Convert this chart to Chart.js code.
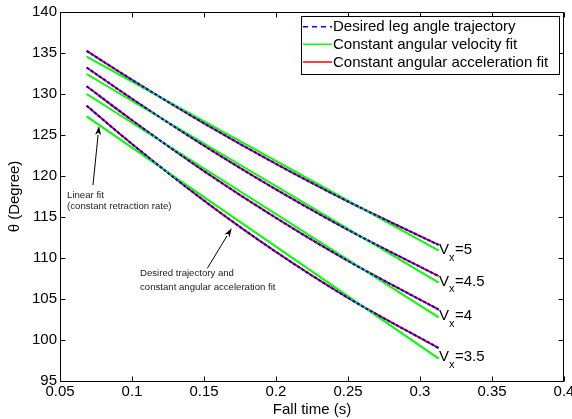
<!DOCTYPE html>
<html>
<head>
<meta charset="utf-8">
<script src="https://cdn.jsdelivr.net/npm/chart.js@4.4.1/dist/chart.umd.min.js"></script>
<style>
html,body{margin:0;padding:0;background:#fff;}
#wrap{width:572px;height:419px;}
</style>
</head>
<body>
<div id="wrap"><canvas id="c" width="572" height="419"></canvas></div>
<script>
// ---- data ----
const fallTime = [0.0685, 0.1, 0.15, 0.2, 0.25, 0.313];
const fitTime = [0.0685, 0.313];
const speedLabels = ['5', '4.5', '4', '3.5'];

const desiredV5  = [135.25, 131.73, 126.43, 121.48, 116.89, 111.59];
const desiredV45 = [133.23, 129.42, 123.70, 118.36, 113.43, 107.78];
const desiredV4  = [130.95, 126.80, 120.60, 114.89, 109.64, 103.72];
const desiredV35 = [128.58, 123.90, 117.00, 110.74, 105.14, 99.02];

const accelFitV5  = [135.25, 131.73, 126.43, 121.48, 116.89, 111.59];
const accelFitV45 = [133.23, 129.42, 123.70, 118.36, 113.43, 107.78];
const accelFitV4  = [130.95, 126.80, 120.60, 114.89, 109.64, 103.72];
const accelFitV35 = [128.58, 123.90, 117.00, 110.74, 105.14, 99.02];

const velFitV5  = [134.55, 110.89];
const velFitV45 = [132.44, 106.99];
const velFitV4  = [130.00, 102.77];
const velFitV35 = [127.28, 97.72];

const xTickValues = [0.05, 0.1, 0.15, 0.2, 0.25, 0.3, 0.35, 0.4];
const yTickValues = [95, 100, 105, 110, 115, 120, 125, 130, 135, 140];
const legendLabels = ['Desired leg angle trajectory', 'Constant angular velocity fit', 'Constant angular acceleration fit'];

// ---- build datasets ----
const FONT = "'Liberation Sans', Arial, Helvetica, sans-serif";
function pts(xs, ys) { return xs.map((x, i) => ({ x: x, y: ys[i] })); }

const desiredSets = [desiredV5, desiredV45, desiredV4, desiredV35];
const accelSets = [accelFitV5, accelFitV45, accelFitV4, accelFitV35];
const velSets = [velFitV5, velFitV45, velFitV4, velFitV35];

const datasets = [];
desiredSets.forEach((d, i) => datasets.push({
  label: legendLabels[0], kind: 0, data: pts(fallTime, d),
  borderColor: '#0000ff', borderDash: [3, 2], borderWidth: 2,
  pointRadius: 0, fill: false, cubicInterpolationMode: 'monotone', order: 0
}));
velSets.forEach((d, i) => datasets.push({
  label: legendLabels[1], kind: 1, data: pts(fitTime, d),
  borderColor: '#00ff00', borderWidth: 2,
  pointRadius: 0, fill: false, order: 1
}));
accelSets.forEach((d, i) => datasets.push({
  label: legendLabels[2], kind: 2, data: pts(fallTime, d),
  borderColor: '#ff0000', borderWidth: 2,
  pointRadius: 0, fill: false, cubicInterpolationMode: 'monotone', order: 2
}));

// annotation anchors in data units
const arrows = [
  { from: [0.0729, 118.9], to: [0.0771, 126.1] },
  { from: [0.1523, 108.74], to: [0.1692, 113.62] }
];
const notes = [
  { t: 0.0549, v: 117.68, text: 'Linear fit' },
  { t: 0.0549, v: 116.26, text: '(constant retraction rate)' },
  { t: 0.1056, v: 108.11, text: 'Desired trajectory and' },
  { t: 0.1056, v: 106.46, text: 'constant angular acceleration fit' }
];
const speedTagAnchor = { t: 0.3132, v: [110.45, 106.6, 102.43, 97.43] };

const decor = {
  id: 'decor',
  afterDatasetsDraw(chart) {
    const { ctx, chartArea: a, scales: { x, y } } = chart;
    ctx.save();
    ctx.strokeStyle = '#000';
    ctx.lineWidth = 1;
    const L = a.left + 0.5, R = a.right - 0.5, T = a.top + 0.5, B = a.bottom + 0.5;
    ctx.beginPath();
    ctx.rect(L, T, R - L, B - T);
    ctx.stroke();
    // inward ticks
    ctx.beginPath();
    x.ticks.forEach(tk => {
      const px = Math.round(x.getPixelForValue(tk.value)) + 0.5;
      ctx.moveTo(px, B); ctx.lineTo(px, B - 5);
      ctx.moveTo(px, T); ctx.lineTo(px, T + 5);
    });
    y.ticks.forEach(tk => {
      const py = Math.round(y.getPixelForValue(tk.value)) + 0.5;
      ctx.moveTo(L, py); ctx.lineTo(L + 5, py);
      ctx.moveTo(R, py); ctx.lineTo(R - 5, py);
    });
    ctx.stroke();

    // arrows
    ctx.fillStyle = '#000';
    arrows.forEach(ar => {
      const x1 = x.getPixelForValue(ar.from[0]), y1 = y.getPixelForValue(ar.from[1]);
      const x2 = x.getPixelForValue(ar.to[0]), y2 = y.getPixelForValue(ar.to[1]);
      const ang = Math.atan2(y2 - y1, x2 - x1);
      const hl = 9, hw = 3;
      const bx = x2 - hl * Math.cos(ang), by = y2 - hl * Math.sin(ang);
      ctx.beginPath();
      ctx.moveTo(x1, y1); ctx.lineTo(bx, by);
      ctx.stroke();
      ctx.beginPath();
      ctx.moveTo(x2, y2);
      ctx.lineTo(bx + hw * Math.sin(ang), by - hw * Math.cos(ang));
      ctx.lineTo(x2 - (hl - 2.5) * Math.cos(ang), y2 - (hl - 2.5) * Math.sin(ang));
      ctx.lineTo(bx - hw * Math.sin(ang), by + hw * Math.cos(ang));
      ctx.closePath();
      ctx.fill();
    });

    // small notes
    ctx.font = '9.6px ' + FONT;
    ctx.fillStyle = '#222';
    ctx.textAlign = 'left';
    ctx.textBaseline = 'middle';
    notes.forEach(n => ctx.fillText(n.text, x.getPixelForValue(n.t), y.getPixelForValue(n.v)));

    // speed tags
    ctx.fillStyle = '#000';
    ctx.textBaseline = 'alphabetic';
    speedLabels.forEach((s, i) => {
      const px = x.getPixelForValue(speedTagAnchor.t);
      const py = y.getPixelForValue(speedTagAnchor.v[i]);
      ctx.font = '15px ' + FONT;
      ctx.fillText('V', px, py);
      const wV = ctx.measureText('V').width;
      ctx.font = '11px ' + FONT;
      ctx.fillText('x', px + wV, py + 6.5);
      const wx = ctx.measureText('x').width;
      ctx.font = '15px ' + FONT;
      ctx.fillText('=' + s, px + wV + wx + 0.5, py);
    });

    // legend
    const lx = a.right - 5 - 258, ly = a.top + 4, lw = 258, lh = 58;
    ctx.fillStyle = '#fff';
    ctx.fillRect(lx, ly, lw, lh);
    ctx.strokeStyle = '#000';
    ctx.lineWidth = 1;
    ctx.strokeRect(lx + 0.5, ly + 0.5, lw, lh);
    const rows = [ly + 10.7, ly + 28.3, ly + 46];
    const kinds = [0, 1, 2];
    kinds.forEach((k, i) => {
      const ds = chart.data.datasets.find(d => d.kind === k);
      ctx.save();
      ctx.strokeStyle = ds.borderColor;
      ctx.lineWidth = 1.5;
      if (k === 0) ctx.setLineDash([5, 4]);
      ctx.beginPath();
      ctx.moveTo(lx + 2, rows[i]); ctx.lineTo(lx + 31, rows[i]);
      ctx.stroke();
      ctx.restore();
      ctx.fillStyle = '#000';
      ctx.font = '15px ' + FONT;
      ctx.textBaseline = 'middle';
      ctx.fillText(ds.label, lx + 32, rows[i] + 0.5);
    });
    ctx.restore();
  }
};

const fmt = v => String(Number(v.toFixed(2)));

new Chart(document.getElementById('c'), {
  type: 'line',
  data: { datasets: datasets },
  options: {
    responsive: false,
    animation: false,
    devicePixelRatio: 1,
    layout: { padding: { top: 12, right: 8, left: 0, bottom: 0 } },
    plugins: { legend: { display: false }, tooltip: { enabled: false } },
    scales: {
      x: {
        type: 'linear', min: 0.05, max: 0.4,
        afterBuildTicks(s) { s.ticks = xTickValues.map(v => ({ value: v })); },
        ticks: { callback: fmt, color: '#000', font: { family: FONT, size: 15 }, padding: 2, maxRotation: 0, autoSkip: false },
        grid: { display: false, drawTicks: false },
        border: { display: false },
        title: { display: true, text: 'Fall time (s)', color: '#000', font: { family: FONT, size: 15 }, padding: { top: 0, bottom: 0 } },
        afterFit(s) { s.height = 38; s.paddingLeft = 0; s.paddingRight = 0; }
      },
      y: {
        type: 'linear', min: 95, max: 140,
        afterBuildTicks(s) { s.ticks = yTickValues.map(v => ({ value: v })); },
        ticks: { color: '#000', font: { family: FONT, size: 15 }, padding: 3 },
        grid: { display: false, drawTicks: false },
        border: { display: false },
        title: { display: true, text: 'θ (Degree)', color: '#000', font: { family: FONT, size: 15 }, padding: { top: 6, bottom: 0 } },
        afterFit(s) { s.width = 60; s.paddingTop = 0; s.paddingBottom = 0; }
      }
    }
  },
  plugins: [decor]
});
</script>
</body>
</html>
